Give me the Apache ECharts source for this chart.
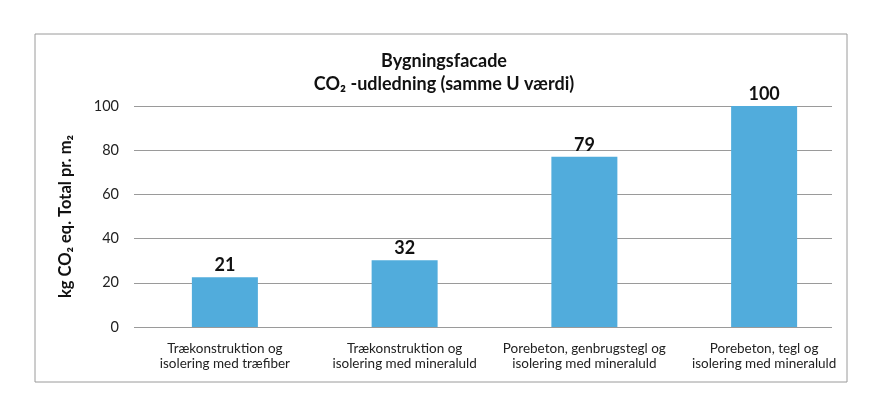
<!DOCTYPE html>
<html><head><meta charset="utf-8">
<script src="https://cdn.jsdelivr.net/npm/echarts@6/dist/echarts.min.js"></script>
<style>html,body{margin:0;padding:0;background:#fff}#c{width:889px;height:416px}</style>
</head><body><div id="c"></div>
<script>
const categories = ["Trækonstruktion og\nisolering med træfiber", "Trækonstruktion og\nisolering med mineraluld", "Porebeton, genbrugstegl og\nisolering med mineraluld", "Porebeton, tegl og\nisolering med mineraluld"];
const barValues = [22.5, 30.2, 77, 100];
const barLabels = ["21", "32", "79", "100"];
const yTicks = [0, 20, 40, 60, 80, 100];
const FONT = "Lato";
const chart = echarts.init(document.getElementById('c'));
chart.setOption({
  animation: false,
  backgroundColor: '#fff',
  title: {
    text: "Bygningsfacade\nCO₂ -udledning (samme U værdi)",
    left: 439, top: 45, textAlign: 'center',
    textStyle: { fontFamily: FONT, fontSize: 18, fontWeight: 'bold', color: '#111', lineHeight: 23 }
  },
  graphic: [{ type: 'rect', shape: { x: 35, y: 34, width: 812, height: 348 }, style: { fill: 'none', stroke: '#9a9a9a', lineWidth: 1 }, silent: true }],
  grid: [
    { left: 135, width: 719, top: 106, bottom: 89 },
    { left: 134, right: 57, top: 106, bottom: 89 }
  ],
  xAxis: [
    { gridIndex: 0, type: 'category', data: categories, axisLine: { show: false }, axisTick: { show: false },
      axisLabel: { interval: 0, fontFamily: FONT, fontSize: 13.5, color: '#222', lineHeight: 15, margin: 14 } },
    { gridIndex: 1, type: 'value', show: false, min: 0, max: 1 }
  ],
  yAxis: [
    { gridIndex: 0, type: 'value', min: 0, max: 100, interval: 20, axisLine: { show: false }, axisTick: { show: false }, axisLabel: { show: false }, splitLine: { show: false } },
    { gridIndex: 1, type: 'value', min: yTicks[0], max: yTicks[yTicks.length - 1], interval: 20,
      axisLine: { show: false }, axisTick: { show: false },
      axisLabel: { fontFamily: FONT, fontSize: 14.5, color: '#222', margin: 15 },
      splitLine: { lineStyle: { color: '#9a9a9a', width: 1 } },
      name: "kg CO₂ eq. Total pr. m₂", nameLocation: 'middle', nameGap: 60,
      nameTextStyle: { fontFamily: FONT, fontSize: 16.5, fontWeight: 'bold', color: '#111' } }
  ],
  series: [{
    type: 'bar', xAxisIndex: 0, yAxisIndex: 0, data: barValues, barWidth: 66, z: 3,
    itemStyle: { color: '#51acdc' },
    label: { show: true, position: 'top', distance: 3, fontFamily: FONT, fontSize: 18, fontWeight: 'bold', color: '#111',
      formatter: p => barLabels[p.dataIndex] }
  }]
});
</script></body></html>
